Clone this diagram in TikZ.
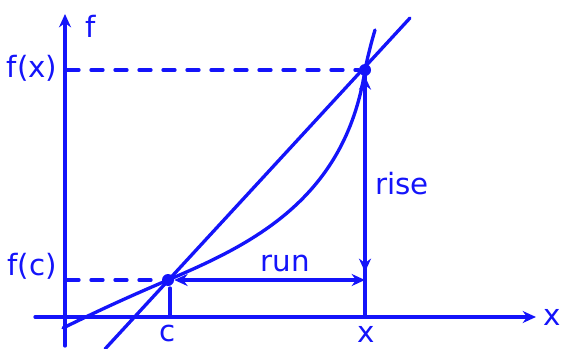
\documentclass[tikz,border=0pt]{standalone}
\usepackage{fontspec}
\setmainfont{DejaVu Sans}
\usetikzlibrary{arrows.meta}
\definecolor{pen}{RGB}{20,20,250}
\begin{document}
\begin{tikzpicture}[x=0.75pt,y=-0.75pt,
  pen/.style={draw=pen,line width=2.5pt,line cap=round,line join=round},
  guide/.style={pen,dash pattern=on 9pt off 9pt},
  lbl/.style={text=pen,font=\fontsize{22}{22}\selectfont,inner sep=0pt},
  tip/.style={-{Stealth[length=10pt,width=9pt]}},
  dbl/.style={{Stealth[length=10pt,width=9pt]}-{Stealth[length=10pt,width=9pt]}},
  dot/.style={circle,fill=pen,inner sep=0pt,minimum size=9pt}]
\useasboundingbox (0,0) rectangle (567,349);
% axes
\coordinate (ybot) at (65,346);
\coordinate (ytop) at (65,14);
\coordinate (xleft) at (35,317);
\coordinate (xright) at (536,317);
\draw[pen,tip] (ybot) -- (ytop);
\draw[pen,tip] (xleft) -- (xright);
% key points
\node[dot] (C) at (168,280) {};
\node[dot] (X) at (365,70) {};
\coordinate (Cy) at (67,280);
\coordinate (Xy) at (67,70);
\coordinate (Cx) at (170,317);
\coordinate (Xx) at (365,317);
\coordinate (R) at (365,280);
\coordinate (R2) at (365,272);
% dashed guides
\draw[guide] (Xy) -- (X);
\draw[guide] (Cy) -- (C);
\draw[pen] ([shift={(2,8)}]C.center) -- (Cx);
% secant line
\coordinate (s1) at (105,349);
\coordinate (s2) at (410,18);
\draw[pen] (s1) -- (s2);
% curve
\draw[pen] (63,328) .. controls (110,305) and (140,292) .. (C.center)
  .. controls (250,245) and (345,200) .. (X.center)
  .. controls (368,55) and (372,40) .. (375,30);
% vertical from x
\draw[pen] (X.center) -- (Xx);
% run and rise arrows
\draw[pen,dbl] (C) -- (R);
\draw[pen,dbl] (X) -- (R2);
% labels
\node[lbl] (lf) at (91,26) {f};
\node[lbl] (lfx) at (32,68) {f(x)};
\node[lbl] (lfc) at (32,266) {f(c)};
\node[lbl] (lc) at (168,333) {c};
\node[lbl] (lx) at (366,334) {x};
\node[lbl] (lxa) at (552,317) {x};
\node[lbl] (lrise) at (402,184) {rise};
\node[lbl] (lrun) at (285,263) {run};
\end{tikzpicture}
\end{document}
